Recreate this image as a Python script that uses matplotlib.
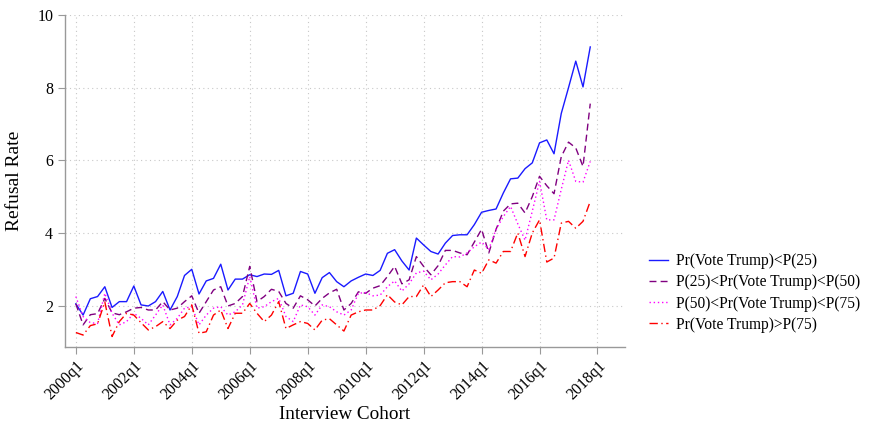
import matplotlib
matplotlib.use("Agg")
import matplotlib.pyplot as plt
import numpy as np

# quarterly refusal rates, 2000q1 .. 2017q4
quarters = np.arange(72)
tick_pos = np.arange(0, 73, 8)
tick_labels = [f"{2000 + 2 * k}q1" for k in range(len(tick_pos))]

below_p25 = [2.05, 1.74, 2.19, 2.25, 2.52, 1.95, 2.11, 2.11, 2.54, 2.02,
             1.99, 2.11, 2.39, 1.88, 2.25, 2.83, 3.00, 2.32, 2.68, 2.75,
             3.14, 2.43, 2.73, 2.73, 2.85, 2.80, 2.87, 2.86, 2.97, 2.27,
             2.34, 2.94, 2.87, 2.34, 2.77, 2.91, 2.66, 2.52, 2.68, 2.78,
             2.87, 2.83, 2.97, 3.44, 3.54, 3.23, 2.98, 3.86, 3.67, 3.49,
             3.42, 3.72, 3.93, 3.95, 3.95, 4.23, 4.57, 4.62, 4.66, 5.10,
             5.49, 5.51, 5.77, 5.93, 6.48, 6.56, 6.18, 7.29, 8.00, 8.73,
             8.02, 9.12]
p25_p50 = [2.05, 1.47, 1.75, 1.78, 2.20, 1.80, 1.75, 1.83, 1.93, 1.95,
           1.88, 1.88, 2.11, 1.88, 1.93, 2.11, 2.27, 1.79, 2.11, 2.43,
           2.52, 1.99, 2.06, 2.25, 3.08, 2.11, 2.25, 2.45, 2.39, 2.06,
           1.93, 2.27, 2.16, 1.99, 2.20, 2.35, 2.45, 1.88, 2.06, 2.38,
           2.34, 2.48, 2.55, 2.80, 3.08, 2.60, 2.71, 3.35, 3.08, 2.85,
           3.10, 3.52, 3.52, 3.45, 3.40, 3.75, 4.10, 3.45, 4.10, 4.60,
           4.80, 4.82, 4.55, 5.00, 5.56, 5.30, 5.08, 6.10, 6.50, 6.34,
           5.83, 7.56]
p50_p75 = [2.25, 1.70, 1.53, 1.51, 2.34, 1.79, 1.47, 1.56, 1.79, 1.65,
           1.47, 1.74, 2.02, 1.47, 1.65, 1.93, 1.97, 1.47, 1.74, 1.93,
           1.97, 1.74, 1.83, 2.02, 2.80, 1.93, 1.97, 2.11, 2.20, 1.70,
           1.56, 2.02, 1.97, 1.74, 2.02, 1.97, 1.83, 1.74, 1.88, 2.34,
           2.36, 2.27, 2.29, 2.52, 2.68, 2.40, 2.60, 2.90, 2.95, 2.71,
           2.87, 3.12, 3.35, 3.34, 3.45, 3.62, 3.75, 3.55, 4.10, 4.45,
           4.73, 4.25, 3.80, 4.60, 5.42, 4.36, 4.36, 5.20, 6.00, 5.42,
           5.40, 5.97]
above_p75 = [1.26, 1.19, 1.45, 1.50, 2.10, 1.15, 1.56, 1.79, 1.74, 1.53,
             1.33, 1.42, 1.56, 1.37, 1.60, 1.70, 2.02, 1.24, 1.28, 1.74,
             1.88, 1.37, 1.79, 1.79, 2.06, 1.79, 1.56, 1.74, 2.11, 1.37,
             1.47, 1.56, 1.51, 1.33, 1.60, 1.64, 1.47, 1.30, 1.74, 1.83,
             1.88, 1.88, 2.00, 2.30, 2.10, 2.02, 2.25, 2.25, 2.57, 2.25,
             2.43, 2.63, 2.66, 2.66, 2.52, 2.98, 2.89, 3.26, 3.17, 3.49,
             3.49, 4.00, 3.35, 4.00, 4.36, 3.20, 3.31, 4.27, 4.32, 4.13,
             4.32, 4.87]

series = [
    ("Pr(Vote Trump)<P(25)", below_p25, "#1a1aff", "-"),
    ("P(25)<Pr(Vote Trump)<P(50)", p25_p50, "#800080", (0, (5, 3))),
    ("P(50)<Pr(Vote Trump)<P(75)", p50_p75, "#ff00ff", (0, (1, 2))),
    ("Pr(Vote Trump)>P(75)", above_p75, "#ff0000", (0, (6, 2.5, 1, 2.5))),
]

plt.rcParams["font.family"] = ["Liberation Serif", "DejaVu Serif"]

fig = plt.figure(figsize=(8.71, 4.28), dpi=100)
ax = fig.add_axes([0.0746, 0.19, 0.643, 0.775])

for label, vals, color, ls in series:
    ax.plot(quarters, vals, color=color, linestyle=ls, linewidth=1.0, label=label)

ax.set_xlim(-1.5, 75.8)
ax.set_ylim(0.87, 10.0)
ax.set_yticks([2, 4, 6, 8, 10])
ax.set_xticks(tick_pos)
ax.set_xticklabels(tick_labels, rotation=45, ha="right", va="top", rotation_mode="anchor")

ax.grid(True, linestyle=(0, (1, 3)), color="#c8c8c8", linewidth=0.8)
ax.set_axisbelow(True)
for side in ("top", "right"):
    ax.spines[side].set_visible(False)
for side in ("left", "bottom"):
    ax.spines[side].set_color("#999999")
    ax.spines[side].set_linewidth(1.0)
ax.tick_params(axis="both", colors="#999999", labelcolor="black", labelsize=11.5, length=5)
ax.tick_params(axis="x", pad=3)

ax.set_ylabel("Refusal Rate", fontsize=14, labelpad=10)
ax.set_xlabel("Interview Cohort", fontsize=13.8, labelpad=2)

ax.legend(loc="center left", bbox_to_anchor=(1.029, 0.162), frameon=False, fontsize=11.2,
          borderpad=0, handlelength=1.2, handletextpad=0.56, labelspacing=0.33)

fig.savefig("out.png", dpi=100)
